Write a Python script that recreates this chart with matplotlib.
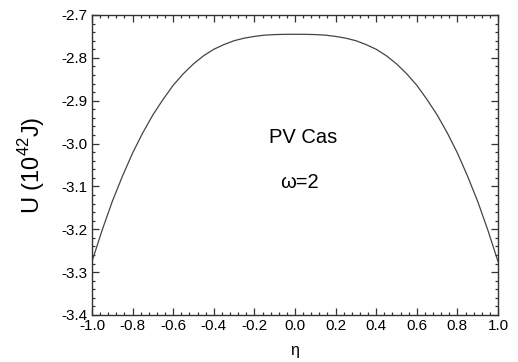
import matplotlib
matplotlib.use("Agg")
import matplotlib.pyplot as plt
from matplotlib.ticker import MultipleLocator, FormatStrFormatter

plt.rcParams['font.family'] = ['Liberation Sans', 'DejaVu Sans']
plt.rcParams['mathtext.fontset'] = 'custom'
plt.rcParams['mathtext.rm'] = 'Liberation Sans'

eta_half = [-1.0, -0.95, -0.9, -0.85, -0.8, -0.75, -0.7, -0.65, -0.6, -0.55,
            -0.5, -0.45, -0.4, -0.35, -0.3, -0.25, -0.2, -0.15, -0.1, -0.05, 0.0]
U_half = [-3.275, -3.202, -3.135, -3.076, -3.022, -2.975, -2.933, -2.897, -2.864, -2.837,
          -2.814, -2.795, -2.780, -2.769, -2.760, -2.754, -2.750, -2.747, -2.7457, -2.7451, -2.745]
eta = eta_half + [-e for e in eta_half[-2::-1]]
U = U_half + U_half[-2::-1]

x_ticks = [-1.0, -0.8, -0.6, -0.4, -0.2, 0.0, 0.2, 0.4, 0.6, 0.8, 1.0]
y_ticks = [-3.4, -3.3, -3.2, -3.1, -3.0, -2.9, -2.8, -2.7]

fig = plt.figure(figsize=(5.18, 3.62), dpi=100)
ax = fig.add_axes([92/518, 1-315/362, 406/518, 300/362])
ax.plot(eta, U, color='#444444', lw=0.9)

ax.set_xlim(-1.0, 1.0)
ax.set_ylim(-3.4, -2.7)
ax.set_xticks(x_ticks)
ax.set_yticks(y_ticks)
ax.xaxis.set_minor_locator(MultipleLocator(0.04))
ax.yaxis.set_minor_locator(MultipleLocator(0.02))
ax.xaxis.set_major_formatter(FormatStrFormatter('%.1f'))
ax.yaxis.set_major_formatter(FormatStrFormatter('%.1f'))
ax.tick_params(which='both', direction='in', top=True, right=True, width=0.9, color='#333333')
ax.tick_params(which='major', length=5, labelsize=11)
ax.tick_params(axis='x', which='major', pad=3)
ax.tick_params(axis='y', which='major', pad=3.5)
ax.tick_params(which='minor', length=2.5)
for s in ax.spines.values():
    s.set_linewidth(1.0)
    s.set_color('#333333')

ax.set_xlabel('η', fontsize=11.5, labelpad=7)
ax.set_ylabel(r'U (10$^{42}$J)', fontsize=17, labelpad=10)

ax.text(0.04, -2.985, 'PV Cas', fontsize=14.5, ha='center', va='center')
ax.text(0.02, -3.092, 'ω=2', fontsize=14.5, ha='center', va='center')

fig.savefig('out.png', dpi=100)
